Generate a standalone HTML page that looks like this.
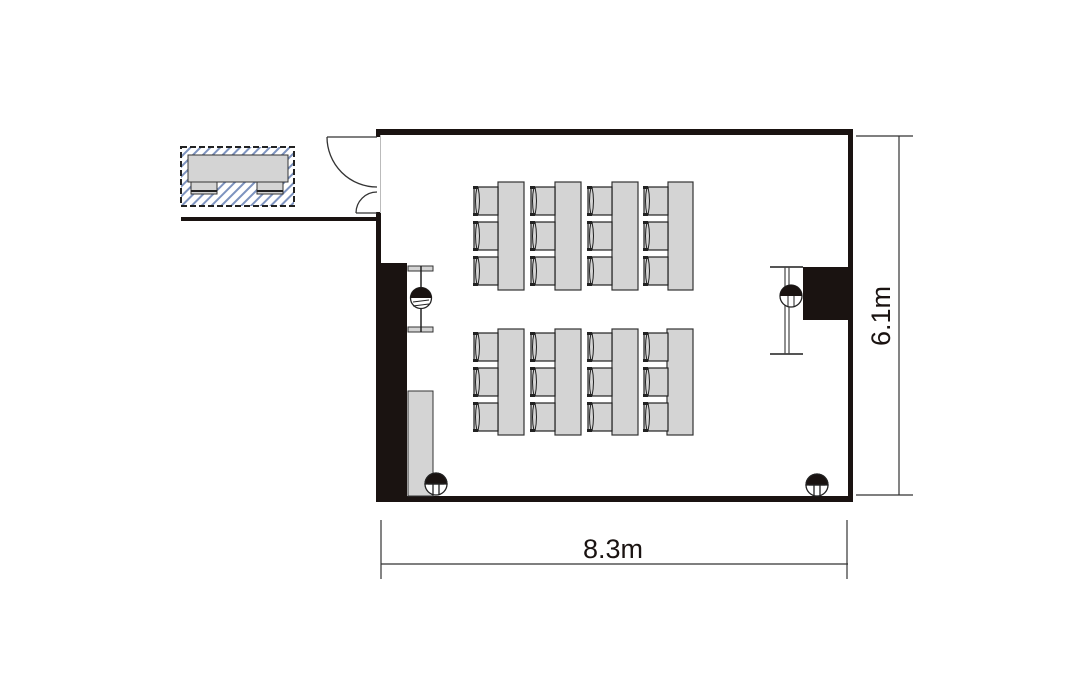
<!DOCTYPE html>
<html><head><meta charset="utf-8"><style>html,body{margin:0;padding:0;background:#fff}svg{display:block}</style></head>
<body>
<svg width="1079" height="696" viewBox="0 0 1079 696" xmlns="http://www.w3.org/2000/svg">
<defs>
<pattern id="h" patternUnits="userSpaceOnUse" width="7" height="7" patternTransform="rotate(45)">
<rect width="7" height="7" fill="#fff"/><rect width="2" height="7" fill="#7d93bf"/></pattern>
<g id="ch">
<rect x="0" y="0" width="24" height="28" fill="#d4d4d4" stroke="#222" stroke-width="1.2"/>
<path d="M3,0 Q0,14 3,28 M4,0 Q7,14 4,28" fill="none" stroke="#222" stroke-width="1"/>
<rect x="-1" y="-1" width="5" height="3" fill="#222"/><rect x="-1" y="26" width="5" height="3" fill="#222"/>
</g>
</defs>
<!-- booth -->
<rect x="181" y="147" width="113" height="59" fill="url(#h)" stroke="#222" stroke-width="2" stroke-dasharray="6,3"/>
<rect x="188" y="155" width="100" height="27" fill="#d4d4d4" stroke="#333" stroke-width="1"/>
<rect x="191" y="182" width="26" height="12" fill="#d4d4d4" stroke="#333" stroke-width="1"/>
<rect x="257" y="182" width="26" height="12" fill="#d4d4d4" stroke="#333" stroke-width="1"/>
<line x1="191" y1="191" x2="217" y2="191" stroke="#222" stroke-width="2"/>
<line x1="257" y1="191" x2="283" y2="191" stroke="#222" stroke-width="2"/>
<!-- walls -->
<rect x="181" y="217" width="200" height="4" fill="#1a1311"/>
<rect x="376" y="129" width="477" height="6" fill="#1a1311"/>
<rect x="376" y="129" width="5" height="8" fill="#1a1311"/>
<rect x="376" y="212" width="5" height="290" fill="#1a1311"/>
<rect x="376" y="263" width="31" height="239" fill="#1a1311"/>
<rect x="848" y="129" width="5" height="373" fill="#1a1311"/>
<rect x="376" y="496" width="477" height="6" fill="#1a1311"/>
<line x1="380.5" y1="135" x2="380.5" y2="213" stroke="#bbb" stroke-width="1"/>
<!-- doors -->
<path d="M327,137 L377,137 M327,137 A50,50 0 0 0 377,187" fill="none" stroke="#333" stroke-width="1.3"/>
<path d="M356,213 L377,213 M356,213 A21,21 0 0 1 377,192" fill="none" stroke="#333" stroke-width="1.3"/>
<!-- cabinet -->
<rect x="408" y="391" width="25" height="105" fill="#d4d4d4" stroke="#333" stroke-width="1"/>
<!-- left screen -->
<rect x="408" y="266" width="25" height="5" fill="#d4d4d4" stroke="#333" stroke-width="1"/>
<rect x="408" y="327" width="25" height="5" fill="#d4d4d4" stroke="#333" stroke-width="1"/>
<line x1="421" y1="266" x2="421" y2="332" stroke="#222" stroke-width="1.5"/>
<circle cx="421" cy="298" r="10.5" fill="#fff" stroke="#222" stroke-width="1.3"/>
<path d="M410.5,298 A10.5,10.5 0 0 1 431.5,298 Z" fill="#1a1311"/>
<path d="M413,302 L429,300 M413,306 L429,304" stroke="#222" stroke-width="1"/>
<!-- right screen -->
<rect x="803" y="267" width="46" height="53" fill="#1a1311"/>
<line x1="770" y1="267" x2="803" y2="267" stroke="#555" stroke-width="2"/>
<line x1="770" y1="354" x2="803" y2="354" stroke="#555" stroke-width="2"/>
<line x1="785" y1="267" x2="785" y2="354" stroke="#444" stroke-width="1.2"/>
<line x1="789" y1="267" x2="789" y2="354" stroke="#444" stroke-width="1.2"/>
<circle cx="791" cy="296" r="11" fill="#fff" stroke="#222" stroke-width="1.3"/>
<path d="M780,296 A11,11 0 0 1 802,296 Z" fill="#1a1311"/>
<path d="M788,296 V307 M794,296 V307" stroke="#222" stroke-width="1"/>
<!-- outlets -->
<g stroke="#222" stroke-width="1.3">
<circle cx="436" cy="484" r="11" fill="#fff"/>
<path d="M425,484 A11,11 0 0 1 447,484 Z" fill="#1a1311"/>
<path d="M433,484 V495 M439,484 V495 M428,484 H444" fill="none"/>
<circle cx="817" cy="485" r="11" fill="#fff"/>
<path d="M806,485 A11,11 0 0 1 828,485 Z" fill="#1a1311"/>
<path d="M814,485 V496 M820,485 V496 M809,485 H825" fill="none"/>
</g>
<!-- desks top -->
<g fill="#d4d4d4" stroke="#333" stroke-width="1.2">
<rect x="498" y="182" width="26" height="108"/><rect x="555" y="182" width="26" height="108"/>
<rect x="612" y="182" width="26" height="108"/><rect x="668" y="182" width="25" height="108"/>
<rect x="498" y="329" width="26" height="106"/><rect x="555" y="329" width="26" height="106"/>
<rect x="612" y="329" width="26" height="106"/><rect x="667" y="329" width="26" height="106"/>
</g>
<g>
<use href="#ch" x="474" y="187"/><use href="#ch" x="474" y="222"/><use href="#ch" x="474" y="257"/>
<use href="#ch" x="531" y="187"/><use href="#ch" x="531" y="222"/><use href="#ch" x="531" y="257"/>
<use href="#ch" x="588" y="187"/><use href="#ch" x="588" y="222"/><use href="#ch" x="588" y="257"/>
<use href="#ch" x="644" y="187"/><use href="#ch" x="644" y="222"/><use href="#ch" x="644" y="257"/>
<use href="#ch" x="474" y="333"/><use href="#ch" x="474" y="368"/><use href="#ch" x="474" y="403"/>
<use href="#ch" x="531" y="333"/><use href="#ch" x="531" y="368"/><use href="#ch" x="531" y="403"/>
<use href="#ch" x="588" y="333"/><use href="#ch" x="588" y="368"/><use href="#ch" x="588" y="403"/>
<use href="#ch" x="644" y="333"/><use href="#ch" x="644" y="368"/><use href="#ch" x="644" y="403"/>
</g>
<!-- dimensions -->
<g stroke="#333" stroke-width="1.2">
<line x1="856" y1="136" x2="913" y2="136"/><line x1="856" y1="495" x2="913" y2="495"/>
<line x1="899" y1="136" x2="899" y2="495"/>
<line x1="381" y1="564" x2="848" y2="564"/>
<line x1="381" y1="520" x2="381" y2="579"/><line x1="847" y1="520" x2="847" y2="579"/>
</g>
<text x="613" y="558" font-family="Liberation Sans, sans-serif" font-size="27" text-anchor="middle" fill="#1a1311">8.3m</text>
<text transform="translate(890,316) rotate(-90)" font-family="Liberation Sans, sans-serif" font-size="27" text-anchor="middle" fill="#1a1311">6.1m</text>
</svg>
</body></html>
